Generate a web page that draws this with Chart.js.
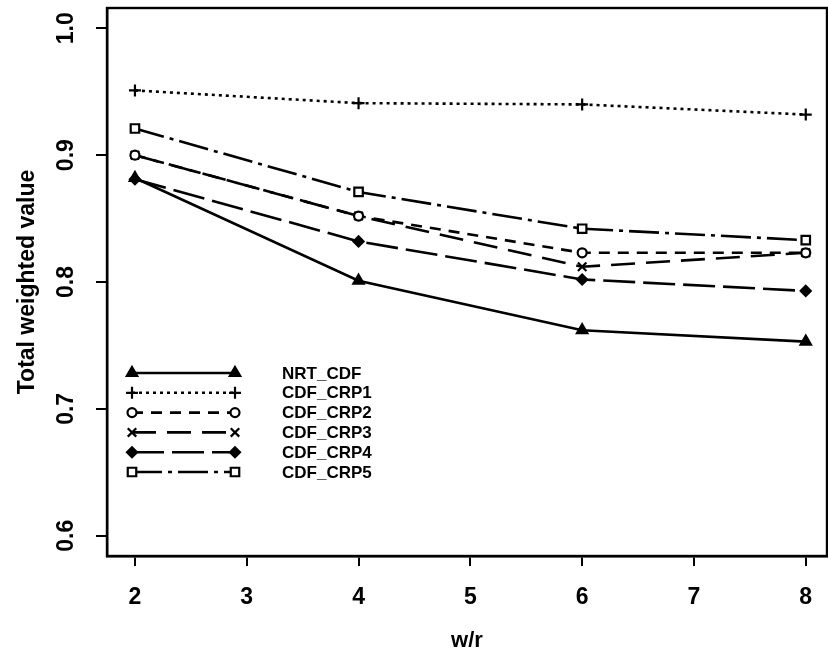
<!DOCTYPE html>
<html>
<head>
<meta charset="utf-8">
<script src="https://cdn.jsdelivr.net/npm/chart.js@4/dist/chart.umd.min.js"></script>
<style>
  html, body { margin: 0; background: #fff; overflow: hidden; }
  #wrap { width: 828px; height: 657px; }
  canvas { display: block; }
</style>
</head>
<body>
<div id="wrap"><canvas id="chart"></canvas></div>
<script>
// total weighted value vs w/r

const wr = [2, 4, 6, 8];
const xTicks = [2, 3, 4, 5, 6, 7, 8];
const yTicks = [0.6, 0.7, 0.8, 0.9, 1.0];

const nrtCdf  = [0.882, 0.801, 0.762, 0.753];
const cdfCrp1 = [0.951, 0.941, 0.940, 0.932];
const cdfCrp2 = [0.900, 0.852, 0.823, 0.823];
const cdfCrp3 = [0.900, 0.852, 0.812, 0.823];
const cdfCrp4 = [0.881, 0.832, 0.802, 0.793];
const cdfCrp5 = [0.921, 0.871, 0.842, 0.833];

const FONT = '"Liberation Sans", Arial, sans-serif';

function pts(arr) {
  return arr.map((v, i) => ({ x: wr[i], y: v }));
}

function series(label, arr, style, dash, fill, radius) {
  return {
    label: label,
    data: pts(arr),
    borderColor: '#000',
    borderWidth: 2.6,
    borderDash: dash,
    pointStyle: style,
    pointRadius: radius || 5,
    pointBorderWidth: 2.2,
    pointBorderColor: '#000',
    pointBackgroundColor: fill ? '#000' : '#fff',
    tension: 0
  };
}

let Data = {
  datasets: [
    series('NRT_CDF',  nrtCdf,  'triangle', [], true, 6),
    series('CDF_CRP1', cdfCrp1, 'cross',    [3, 4], false, 6),
    series('CDF_CRP2', cdfCrp2, 'circle',   [11, 8], false, 4.5),
    series('CDF_CRP3', cdfCrp3, 'crossRot', [24, 11], false, 6),
    series('CDF_CRP4', cdfCrp4, 'rectRot',  [32, 8], true, 5),
    series('CDF_CRP5', cdfCrp5, 'rect',     [30, 6, 4, 6], false, 6)
  ]
};

// box around plot, rotated y labels, legend
let boxPlugin = {
  id: 'box',
  afterDraw(c) {
    const ctx = c.ctx;
    const a = c.chartArea;
    const ys = c.scales.y;
    ctx.save();
    ctx.strokeStyle = '#000';
    ctx.lineWidth = 2.4;
    ctx.setLineDash([]);
    ctx.strokeRect(a.left, a.top, a.right - a.left, a.bottom - a.top);

    ctx.fillStyle = '#000';
    ctx.font = 'bold 23px ' + FONT;
    ctx.textAlign = 'center';
    ctx.textBaseline = 'middle';
    yTicks.forEach(v => {
      ctx.save();
      ctx.translate(67, ys.getPixelForValue(v));
      ctx.rotate(-Math.PI / 2);
      ctx.fillText(v.toFixed(1), 0, 0);
      ctx.restore();
    });

    // legend
    const rowY = 373, rowH = 19.8, x0 = 132, x1 = 235;
    ctx.font = 'bold 17px ' + FONT;
    ctx.textAlign = 'left';
    c.data.datasets.forEach((ds, i) => {
      const y = rowY + i * rowH;
      ctx.strokeStyle = '#000';
      ctx.lineWidth = ds.borderWidth;
      ctx.setLineDash(ds.borderDash);
      ctx.beginPath();
      ctx.moveTo(x0, y);
      ctx.lineTo(x1, y);
      ctx.stroke();
      ctx.setLineDash([]);
      ctx.lineWidth = ds.pointBorderWidth;
      ctx.fillStyle = ds.pointBackgroundColor;
      [x0, x1].forEach(px => {
        Chart.helpers.drawPoint(ctx, {
          pointStyle: ds.pointStyle, radius: ds.pointRadius, rotation: 0, borderWidth: 2
        }, px, y);
      });
      ctx.fillStyle = '#000';
      ctx.fillText(ds.label, 282, y + 1);
    });
    ctx.restore();
  }
};

let Options = {
  responsive: true,
  maintainAspectRatio: false,
  animation: { duration: 0 },
  layout: { autoPadding: false, padding: { top: 8, right: 1, left: 0, bottom: 0 } },
  plugins: {
    legend: { display: false },
    tooltip: { enabled: false }
  },
  scales: {
    x: {
      type: 'linear',
      min: 1.75,
      max: 8.19,
      afterBuildTicks: s => { s.ticks = xTicks.map(v => ({ value: v })); },
      afterFit: s => { s.height = 101; s.paddingLeft = 0; s.paddingRight = 0; },
      grid: { drawOnChartArea: false, drawTicks: true, tickLength: 10, color: '#000', lineWidth: 2 },
      border: { display: true, color: '#000', width: 2.4 },
      ticks: {
        color: '#000',
        padding: 18,
        font: { family: FONT, size: 23, weight: 'bold' },
        maxRotation: 0
      },
      title: {
        display: true,
        text: 'w/r',
        color: '#000',
        font: { family: FONT, size: 22, weight: 'bold' },
        padding: { top: 0, bottom: 3 }
      }
    },
    y: {
      type: 'linear',
      min: 0.584,
      max: 1.016,
      afterBuildTicks: s => { s.ticks = yTicks.map(v => ({ value: v })); },
      afterFit: s => { s.width = 107; s.paddingTop = 0; s.paddingBottom = 0; },
      grid: { drawOnChartArea: false, drawTicks: true, tickLength: 11, color: '#000', lineWidth: 2 },
      border: { display: true, color: '#000', width: 2.4 },
      ticks: { display: false },
      title: {
        display: true,
        text: 'Total weighted value',
        color: '#000',
        font: { family: FONT, size: 23, weight: 'bold' },
        padding: { top: 14, bottom: 0 }
      }
    }
  }
};

let lineChart = new Chart(document.getElementById('chart'), {
  type: 'line',
  data: Data,
  options: Options,
  plugins: [boxPlugin]
});
</script>
</body>
</html>
